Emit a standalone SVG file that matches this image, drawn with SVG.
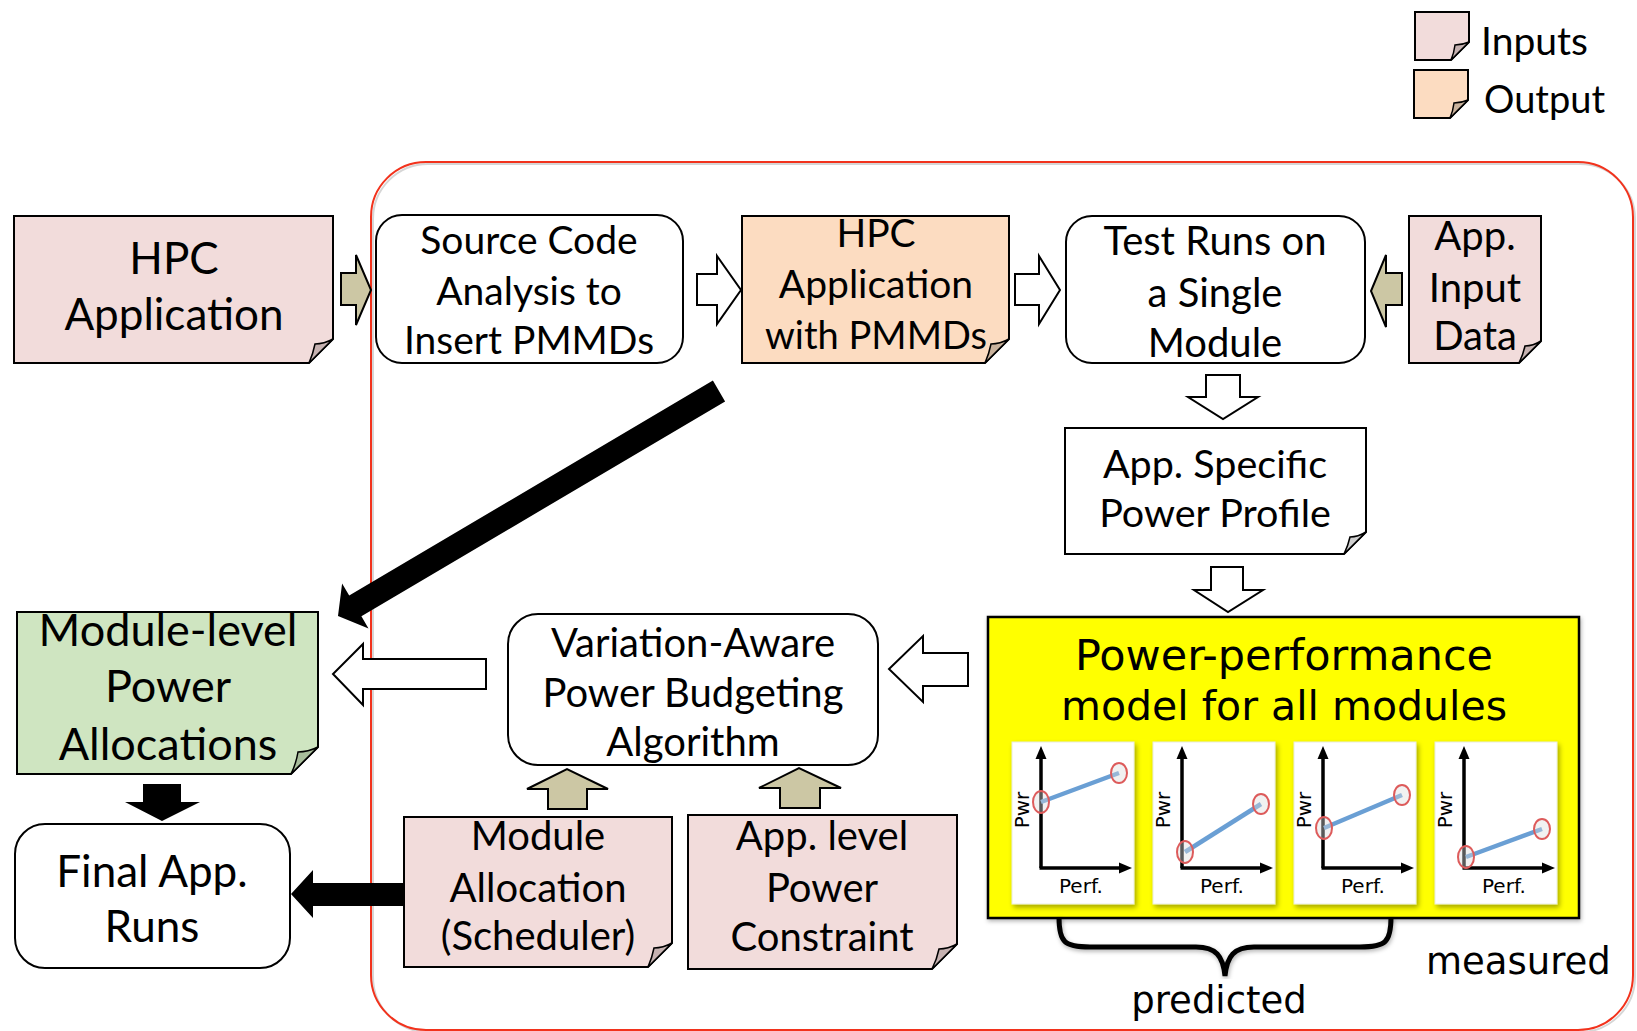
<svg xmlns="http://www.w3.org/2000/svg" width="1637" height="1031" viewBox="0 0 1637 1031">
<style>
.t{font-family:Lato,"Liberation Sans",sans-serif;text-anchor:middle;fill:#000}
.g{font-family:"DejaVu Sans","Liberation Sans",sans-serif;fill:#000}
.box{fill:#fff;stroke:#000;stroke-width:2}
.pink{fill:#f2dcdb;stroke:#000;stroke-width:2}
.orange{fill:#fcdcc1;stroke:#000;stroke-width:2}
.green{fill:#cfe5c1;stroke:#000;stroke-width:2}
.white{fill:#fff;stroke:#000;stroke-width:2}
.flp{fill:#c6b2b1;stroke:#000;stroke-width:1.5}
.flo{fill:#c9b29c;stroke:#000;stroke-width:1.5}
.flg{fill:#a8bd9b;stroke:#000;stroke-width:1.5}
.flw{fill:#cfcfcf;stroke:#000;stroke-width:1.5}
.tan{fill:#ccc7a4;stroke:#000;stroke-width:2;stroke-linejoin:miter}
.wa{fill:#fff;stroke:#000;stroke-width:2;stroke-linejoin:miter}
.blk{fill:#000}
.ax{stroke:#000;stroke-width:3.5;fill:none}
.ln{stroke:#6a9fd4;stroke-width:4.5;fill:none}
.ci{stroke:#dd5b5b;stroke-width:2;fill:rgba(220,220,220,0.4)}
.panel{fill:#fff;stroke:#e8ece0;stroke-width:1}
</style>
<defs>
<filter id="sh" x="-10%" y="-10%" width="130%" height="130%">
<feDropShadow dx="2" dy="3" stdDeviation="2.5" flood-color="#000" flood-opacity="0.35"/>
</filter>
<filter id="sh2" x="-5%" y="-5%" width="110%" height="110%">
<feDropShadow dx="1" dy="2" stdDeviation="2" flood-color="#000" flood-opacity="0.3"/>
</filter>
<g id="chart">
<rect class="panel" x="0" y="0" width="122" height="162" filter="url(#sh)"/>
<line class="ax" x1="29" y1="126" x2="29" y2="14"/>
<line class="ax" x1="27.5" y1="126" x2="108" y2="126"/>
<polygon class="blk" points="29,4 23.5,17 34.5,17"/>
<polygon class="blk" points="120,126 107,120.5 107,131.5"/>
<text class="g" font-size="20" x="47" y="151">Perf.</text>
<text class="g" font-size="20" transform="translate(17,68) rotate(-90)" text-anchor="middle">Pwr</text>
</g>
</defs>

<rect width="1637" height="1031" fill="#fff"/>

<!-- red container -->
<rect x="373" y="164" width="1262" height="868" rx="55" fill="none" stroke="#bbb" stroke-width="2" opacity="0.6"/>
<rect x="371" y="162" width="1262" height="868" rx="55" fill="none" stroke="#f2321c" stroke-width="2"/>

<!-- legend -->
<g id="legend">
<path class="pink" d="M1415,12 H1469 V42 L1451,60 H1415 Z"/>
<path class="flp" d="M1469,42 Q1462,45 1455,45 Q1454,53 1451,60 Z"/>
<text class="t" x="1481" y="55" style="text-anchor:start" font-size="39">Inputs</text>
<path class="orange" d="M1414,70 H1468 V100 L1450,118 H1414 Z"/>
<path class="flo" d="M1468,100 Q1461,103 1454,103 Q1453,111 1450,118 Z"/>
<text class="t" x="1484" y="113" style="text-anchor:start" font-size="38">Output</text>
</g>

<!-- nodes -->
<g id="hpc-app">
<path class="pink" d="M14,216 H333 V339 L309,363 H14 Z"/>
<path class="flp" d="M333,339 Q324,344 315,344 Q313,354 309,363 Z"/>
<text class="t" font-size="44" x="174" y="274">HPC</text>
<text class="t" font-size="44" x="174" y="330">Application</text>
</g>

<g id="source-code">
<rect class="box" x="376" y="215" width="307" height="148" rx="26"/>
<text class="t" font-size="39" x="529" y="254">Source Code</text>
<text class="t" font-size="39" x="529" y="305">Analysis to</text>
<text class="t" font-size="39" x="529" y="354">Insert PMMDs</text>
</g>

<g id="hpc-pmmd">
<path class="orange" d="M742,216 H1009 V339 L985,363 H742 Z"/>
<path class="flo" d="M1009,339 Q1000,344 991,344 Q989,354 985,363 Z"/>
<text class="t" font-size="39" x="876" y="247">HPC</text>
<text class="t" font-size="39" x="876" y="298">Application</text>
<text class="t" font-size="38" x="876" y="349">with PMMDs</text>
</g>

<g id="test-runs">
<rect class="box" x="1066" y="216" width="299" height="147" rx="26"/>
<text class="t" font-size="40" x="1215" y="255">Test Runs on</text>
<text class="t" font-size="40" x="1215" y="307">a Single</text>
<text class="t" font-size="40" x="1215" y="357">Module</text>
</g>

<g id="app-input">
<path class="pink" d="M1409,216 H1541 V341 L1519,363 H1409 Z"/>
<path class="flp" d="M1541,341 Q1533,346 1525,346 Q1523,355 1519,363 Z"/>
<text class="t" font-size="40" x="1475" y="250">App.</text>
<text class="t" font-size="40" x="1475" y="302">Input</text>
<text class="t" font-size="40" x="1475" y="350">Data</text>
</g>

<g id="power-profile">
<path class="white" d="M1065,428 H1366 V532 L1344,554 H1065 Z"/>
<path class="flw" d="M1366,532 Q1358,537 1350,537 Q1348,546 1344,554 Z"/>
<text class="t" font-size="39.5" x="1215" y="478">App. Specific</text>
<text class="t" font-size="39.5" x="1215" y="527">Power Profile</text>
</g>

<g id="model">
<rect x="988" y="617" width="591" height="301" fill="#ffff00" stroke="#000" stroke-width="2.5" filter="url(#sh2)"/>
<text class="g" font-size="43" x="1284" y="670" text-anchor="middle">Power-performance</text>
<text class="g" font-size="41" x="1284" y="720" text-anchor="middle">model for all modules</text>
<use href="#chart" x="1012" y="742"/>
<use href="#chart" x="1153" y="742"/>
<use href="#chart" x="1294" y="742"/>
<use href="#chart" x="1435" y="742"/>
<line class="ln" x1="1041" y1="802" x2="1119" y2="773"/>
<ellipse class="ci" cx="1041" cy="802" rx="8" ry="11"/>
<ellipse class="ci" cx="1119" cy="773" rx="8" ry="10"/>
<line class="ln" x1="1185" y1="852" x2="1261" y2="804"/>
<ellipse class="ci" cx="1185" cy="852" rx="8" ry="11"/>
<ellipse class="ci" cx="1261" cy="804" rx="8" ry="10"/>
<line class="ln" x1="1324" y1="828" x2="1402" y2="795"/>
<ellipse class="ci" cx="1324" cy="828" rx="8" ry="11"/>
<ellipse class="ci" cx="1402" cy="795" rx="8" ry="10"/>
<line class="ln" x1="1466" y1="857" x2="1542" y2="829"/>
<ellipse class="ci" cx="1466" cy="857" rx="8" ry="11"/>
<ellipse class="ci" cx="1542" cy="829" rx="8" ry="10"/>
</g>

<g id="brace">
<path d="M1059,917 C1059,942 1064,947 1090,947 L1196,947 C1216,947 1223,956 1225,976 C1227,956 1234,947 1254,947 L1360,947 C1386,947 1391,942 1391,917" fill="none" stroke="#000" stroke-width="5" filter="url(#sh2)"/>
<text class="g" font-size="37" x="1219" y="1013" text-anchor="middle">predicted</text>
<text class="g" font-size="37" x="1426" y="974">measured</text>
</g>

<g id="variation">
<rect class="box" x="508" y="614" width="370" height="151" rx="30"/>
<text class="t" font-size="40" x="693" y="657">Variation-Aware</text>
<text class="t" font-size="40" x="693" y="707">Power Budgeting</text>
<text class="t" font-size="40" x="693" y="756">Algorithm</text>
</g>

<g id="module-level">
<path class="green" d="M17,612 H318 V747 L291,774 H17 Z"/>
<path class="flg" d="M318,747 Q308,752 298,752 Q296,764 291,774 Z"/>
<text class="t" font-size="45" x="168" y="646">Module-level</text>
<text class="t" font-size="45" x="168" y="702">Power</text>
<text class="t" font-size="45" x="168" y="760">Allocations</text>
</g>

<g id="final-runs">
<rect class="box" x="15" y="824" width="275" height="144" rx="30"/>
<text class="t" font-size="44" x="152" y="887">Final App.</text>
<text class="t" font-size="44" x="152" y="942">Runs</text>
</g>

<g id="module-alloc">
<path class="pink" d="M404,817 H672 V943 L648,967 H404 Z"/>
<path class="flp" d="M672,943 Q663,948 654,948 Q652,958 648,967 Z"/>
<text class="t" font-size="40" x="538" y="850">Module</text>
<text class="t" font-size="40" x="538" y="902">Allocation</text>
<text class="t" font-size="40" x="538" y="950">(Scheduler)</text>
</g>

<g id="power-constraint">
<path class="pink" d="M688,815 H957 V944 L932,969 H688 Z"/>
<path class="flp" d="M957,944 Q948,949 939,949 Q937,959 932,969 Z"/>
<text class="t" font-size="40" x="822" y="850">App. level</text>
<text class="t" font-size="40" x="822" y="902">Power</text>
<text class="t" font-size="40" x="822" y="951">Constraint</text>
</g>

<!-- connectors -->
<g id="connectors">
<polygon class="tan" points="341,273 356,273 356,255 371,290 356,325 356,305 341,305"/>
<polygon class="wa" points="697,274 717,274 717,256 741,290 717,324 717,305 697,305"/>
<polygon class="wa" points="1015,274 1039,274 1039,256 1060,290 1039,324 1039,305 1015,305"/>
<polygon class="tan" points="1402,273 1386,273 1386,255 1371,291 1386,327 1386,305 1402,305"/>
<polygon class="wa" points="1206,375 1240,375 1240,397 1258,397 1223,419 1188,397 1206,397"/>
<polygon class="wa" points="1211,567 1243,567 1243,590 1263,590 1228,612 1194,590 1211,590"/>
<polygon class="wa" points="968,653 923,653 923,636 889,669 923,702 923,686 968,686"/>
<polygon class="wa" points="486,659 363,659 363,644 333,674 363,705 363,689 486,689"/>
<polygon class="tan" points="548,809 548,789 527,789 567,769 608,789 587,789 587,809"/>
<polygon class="tan" points="780,808 780,788 759,788 799,768 841,788 820,788 820,808"/>
<polygon class="blk" points="143,784 181,784 181,802 200,802 162,821 125,802 143,802"/>
<polygon class="blk" points="404,883 313,883 313,870 291,894 313,918 313,906 404,906"/>
<polygon class="blk" points="712.9,380.6 349.2,595.5 342.1,583.4 338,616 368.5,628.4 361.4,616.3 725.1,401.4"/>
</g>
</svg>
